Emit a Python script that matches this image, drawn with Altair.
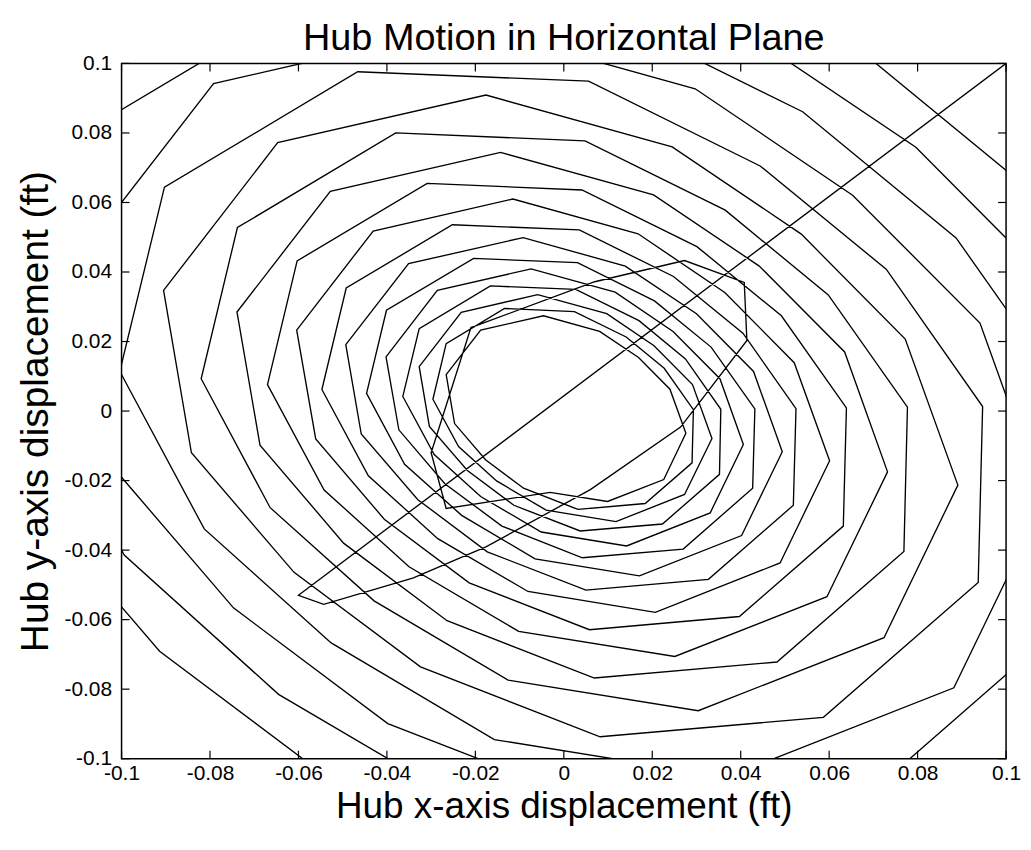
import altair as alt
import pandas as pd

# start-up transient
startup_x = [0.100, -0.060, -0.0543, -0.034, -0.0175, 0.006, 0.0264, 0.0414, 0.0408,
             0.0273, 0.007, -0.021, -0.030, -0.0266]
startup_y = [0.100, -0.053, -0.0556, -0.048, -0.039, -0.0226, -0.0046, 0.0203, 0.037,
             0.0433, 0.0372, 0.024, -0.012, -0.028]

# growing whirl (vertices)
spiral_x = [
    -0.0031, 0.0099, 0.0226, 0.0276, 0.0240, 0.0169, 0.0081, -0.0046, -0.0188, -0.0266,
    -0.0247, -0.0177, -0.0091, 0.0032, 0.0184, 0.0290, 0.0293, 0.0227, 0.0141, 0.0024,
    -0.0134, -0.0266, -0.0296, -0.0238, -0.0152,
    -0.0040, 0.0118, 0.0273, 0.0335, 0.0291, 0.0204, 0.0097, -0.0059, -0.0232, -0.0327,
    -0.0304, -0.0218, -0.0113, 0.0037, 0.0223, 0.0352, 0.0355, 0.0275, 0.0170, 0.0027,
    -0.0166, -0.0327, -0.0364, -0.0293, -0.0188,
    -0.0051, 0.0142, 0.0331, 0.0406, 0.0353, 0.0247, 0.0116, -0.0074, -0.0286, -0.0402,
    -0.0373, -0.0269, -0.0140, 0.0042, 0.0270, 0.0427, 0.0432, 0.0333, 0.0205, 0.0031,
    -0.0204, -0.0401, -0.0446, -0.0360, -0.0231,
    -0.0065, 0.0171, 0.0402, 0.0494, 0.0429, 0.0300, 0.0139, -0.0092, -0.0351, -0.0493,
    -0.0458, -0.0330, -0.0173, 0.0050, 0.0327, 0.0519, 0.0525, 0.0405, 0.0248, 0.0035,
    -0.0252, -0.0492, -0.0547, -0.0442, -0.0285,
    -0.0081, 0.0207, 0.0489, 0.0601, 0.0521, 0.0364, 0.0168, -0.0115, -0.0431, -0.0604,
    -0.0561, -0.0406, -0.0214, 0.0058, 0.0397, 0.0632, 0.0639, 0.0492, 0.0301, 0.0041,
    -0.0309, -0.0603, -0.0670, -0.0542, -0.0350,
    -0.0102, 0.0251, 0.0595, 0.0732, 0.0635, 0.0442, 0.0203, -0.0143, -0.0528, -0.0739,
    -0.0687, -0.0498, -0.0264, 0.0069, 0.0482, 0.0769, 0.0777, 0.0598, 0.0365, 0.0048,
    -0.0380, -0.0738, -0.0820, -0.0664, -0.0429,
    -0.0126, 0.0304, 0.0724, 0.0891, 0.0772, 0.0537, 0.0245, -0.0176, -0.0647, -0.0905,
    -0.0842, -0.0610, -0.0324, 0.0082, 0.0587, 0.0937, 0.0947, 0.0729, 0.0444, 0.0056,
    -0.0466, -0.0903, -0.1004, -0.0813, -0.0526,
    -0.0157, 0.0369, 0.0882, 0.1086, 0.0941, 0.0653, 0.0297, -0.0218, -0.0792, -0.1107,
    -0.1030, -0.0747, -0.0398, 0.0098, 0.0714, 0.1141, 0.1154, 0.0887, 0.0540, 0.0067,
    -0.0572, -0.1105, -0.1228, -0.0994, -0.0645,
    -0.0193, 0.0448, 0.1075, 0.1323, 0.1147, 0.0796, 0.0360, -0.0268, -0.0969, -0.1353,
    -0.1259, -0.0914, -0.0488, 0.0117, 0.0870, 0.1391, 0.1407, 0.1081, 0.0657,
]
spiral_y = [
    -0.0234, -0.0260, -0.0197, -0.0064, 0.0063, 0.0154, 0.0229, 0.0274, 0.0233, 0.0105,
    -0.0036, -0.0140, -0.0222, -0.0283, -0.0266, -0.0149, 0.0004, 0.0123, 0.0213, 0.0286,
    0.0295, 0.0194, 0.0034, -0.0102, -0.0201,
    -0.0285, -0.0318, -0.0240, -0.0079, 0.0076, 0.0188, 0.0280, 0.0335, 0.0284, 0.0128,
    -0.0044, -0.0171, -0.0271, -0.0345, -0.0325, -0.0182, 0.0005, 0.0150, 0.0260, 0.0350,
    0.0360, 0.0237, 0.0042, -0.0125, -0.0246,
    -0.0348, -0.0388, -0.0293, -0.0096, 0.0093, 0.0229, 0.0342, 0.0409, 0.0347, 0.0156,
    -0.0054, -0.0209, -0.0331, -0.0422, -0.0397, -0.0222, 0.0006, 0.0184, 0.0317, 0.0427,
    0.0439, 0.0290, 0.0051, -0.0153, -0.0300,
    -0.0425, -0.0474, -0.0358, -0.0117, 0.0114, 0.0280, 0.0417, 0.0499, 0.0424, 0.0191,
    -0.0066, -0.0255, -0.0405, -0.0515, -0.0484, -0.0271, 0.0007, 0.0224, 0.0387, 0.0521,
    0.0536, 0.0354, 0.0062, -0.0186, -0.0367,
    -0.0519, -0.0579, -0.0437, -0.0143, 0.0139, 0.0341, 0.0510, 0.0610, 0.0518, 0.0233,
    -0.0080, -0.0311, -0.0494, -0.0629, -0.0591, -0.0331, 0.0009, 0.0274, 0.0473, 0.0636,
    0.0655, 0.0432, 0.0076, -0.0227, -0.0448,
    -0.0634, -0.0706, -0.0534, -0.0175, 0.0170, 0.0417, 0.0622, 0.0744, 0.0632, 0.0285,
    -0.0098, -0.0380, -0.0603, -0.0768, -0.0722, -0.0404, 0.0011, 0.0334, 0.0578, 0.0777,
    0.0800, 0.0528, 0.0093, -0.0278, -0.0546,
    -0.0774, -0.0862, -0.0652, -0.0213, 0.0207, 0.0509, 0.0760, 0.0909, 0.0772, 0.0347,
    -0.0120, -0.0464, -0.0736, -0.0937, -0.0881, -0.0493, 0.0013, 0.0408, 0.0705, 0.0949,
    0.0976, 0.0644, 0.0114, -0.0339, -0.0667,
    -0.0945, -0.1053, -0.0796, -0.0260, 0.0253, 0.0621, 0.0927, 0.1109, 0.0942, 0.0424,
    -0.0146, -0.0566, -0.0899, -0.1144, -0.1076, -0.0602, 0.0016, 0.0498, 0.0861, 0.1158,
    0.1192, 0.0787, 0.0139, -0.0414, -0.0815,
    -0.1153, -0.1286, -0.0972, -0.0318, 0.0309, 0.0759, 0.1132, 0.1354, 0.1150, 0.0518,
    -0.0178, -0.0691, -0.1098, -0.1397, -0.1314, -0.0734, 0.0020, 0.0608, 0.1051,
]

tick_values = [-0.1, -0.08, -0.06, -0.04, -0.02, 0.0, 0.02, 0.04, 0.06, 0.08, 0.1]

xs = startup_x + spiral_x
ys = startup_y + spiral_y
path = pd.DataFrame({"step": list(range(len(xs))), "x": xs, "y": ys})
ticks = pd.DataFrame({"x": tick_values, "y": tick_values})

W, H = 888, 698
FONT = "Liberation Sans"
TL = 8
label_expr = "replace(format(datum.value, '.2~f'), '\u2212', '-')"

xscale = alt.Scale(domain=[-0.1, 0.1], nice=False, zero=False)
yscale = alt.Scale(domain=[-0.1, 0.1], nice=False, zero=False)

xaxis = alt.Axis(values=tick_values, labelExpr=label_expr, ticks=False, domain=False,
                 grid=False, labelFontSize=21, labelFont=FONT, labelColor="black",
                 labelPadding=4, labelFlush=False, labelOverlap=False,
                 title="Hub x-axis displacement (ft)", titleFont=FONT, titleFontSize=37,
                 titleFontWeight="normal", titleColor="black", titlePadding=5)
yaxis = alt.Axis(values=tick_values, labelExpr=label_expr, ticks=False, domain=False,
                 grid=False, labelFontSize=21, labelFont=FONT, labelColor="black",
                 labelPadding=10, labelFlush=False, labelOverlap=False,
                 title="Hub y-axis displacement (ft)", titleFont=FONT, titleFontSize=39,
                 titleFontWeight="normal", titleColor="black", titlePadding=8)

X = alt.X("x:Q", scale=xscale, axis=xaxis)
Y = alt.Y("y:Q", scale=yscale, axis=yaxis)

line = alt.Chart(path).mark_line(clip=True, color="black", strokeWidth=1.35).encode(
    x=X, y=Y, order=alt.Order("step:Q"),
)

tick_base = alt.Chart(ticks).mark_rule(color="black", strokeWidth=1.2)
bottom_ticks = tick_base.encode(x=X, y=alt.value(H), y2=alt.value(H - TL))
top_ticks = tick_base.encode(x=X, y=alt.value(0), y2=alt.value(TL))
left_ticks = tick_base.encode(y=Y, x=alt.value(0), x2=alt.value(TL))
right_ticks = tick_base.encode(y=Y, x=alt.value(W), x2=alt.value(W - TL))

chart = alt.layer(line, bottom_ticks, top_ticks, left_ticks, right_ticks).properties(
    width=W, height=H,
    background="white",
    title=alt.TitleParams("Hub Motion in Horizontal Plane", font=FONT, fontSize=38,
                          fontWeight="normal", color="black", anchor="middle", offset=-6),
    autosize=alt.AutoSizeParams(type="none"),
    padding={"left": 114, "top": 54, "right": 17, "bottom": 82},
).configure_view(stroke="black", strokeWidth=1.5)

chart.save("out.html", embed_options={"renderer": "svg", "actions": False})
